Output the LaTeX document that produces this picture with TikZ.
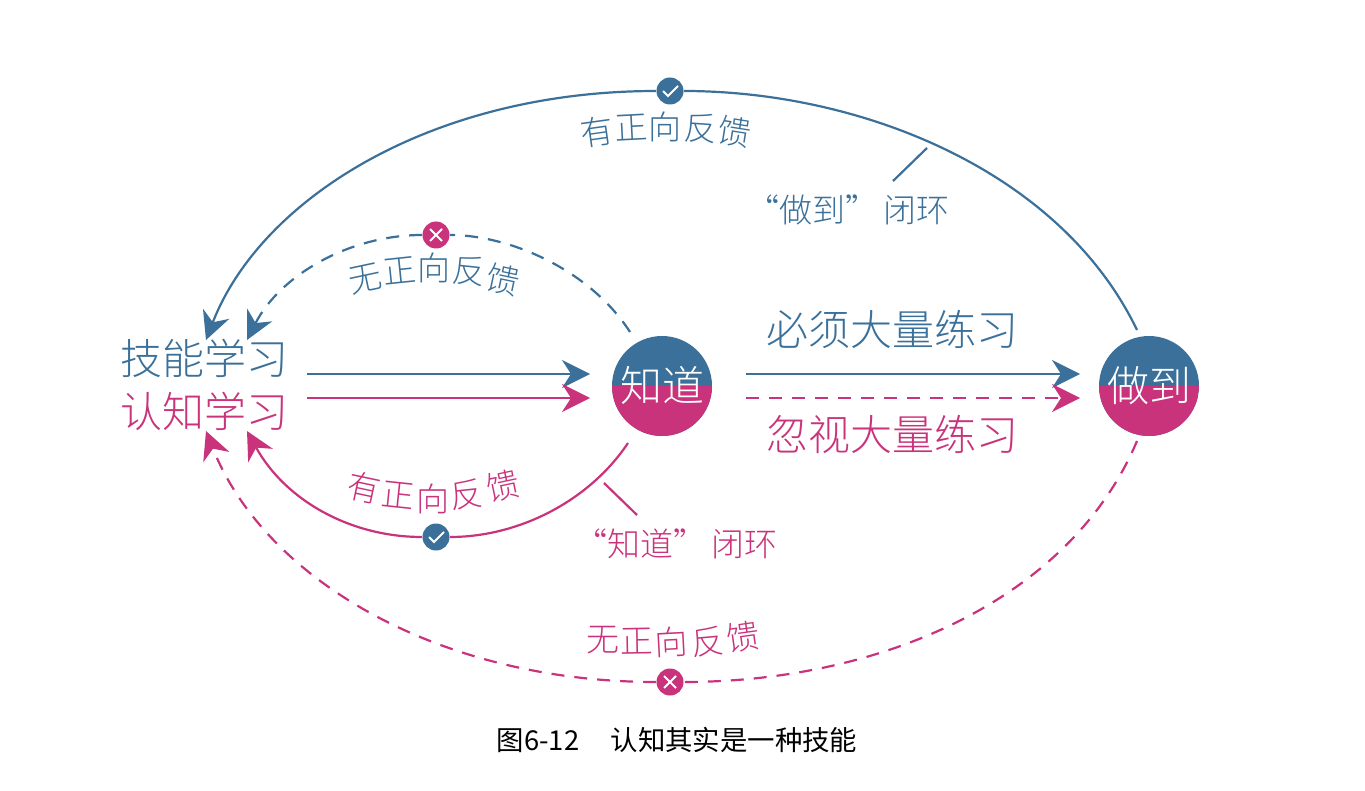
\documentclass[tikz,border=0pt]{standalone}
\usepackage{fontspec}
\setmainfont{Noto Sans CJK SC}
\newfontfamily\thincjk{Noto Sans CJK SC Light}
\usetikzlibrary{arrows.meta}
\definecolor{skillblue}{HTML}{3A7099}
\definecolor{cogpink}{HTML}{C9337C}
\tikzset{
  tipped/.style={-{Stealth[length=14pt,width=14pt,inset=4.5pt]}},
  link/.style={line width=1.1pt},
  dashlink/.style={link,dash pattern=on 6.5pt off 5pt},
  bigtext/.style={font=\thincjk\fontsize{21}{21}\selectfont,inner sep=0pt},
  arctext/.style={font=\thincjk\fontsize{16.5}{17}\selectfont,inner sep=0pt},
  loopname/.style={font=\thincjk\fontsize{16.5}{17}\selectfont,inner sep=0pt},
  halfball/.style={circle,minimum size=50pt,inner sep=0pt,fill=skillblue,text=white,font=\thincjk\fontsize{21}{21}\selectfont,
    path picture={\fill[cogpink] (path picture bounding box.west) rectangle (path picture bounding box.south east);}},
  badge/.style={circle,minimum size=13.5pt,inner sep=0pt,fill=#1},
  okbadge/.style={badge=skillblue,
    path picture={\draw[white,line width=1pt] (path picture bounding box.center) ++(-7,0) -- ++(5,5) -- ++(10,-10);}},
  nobadge/.style={badge=cogpink,
    path picture={\draw[white,line width=1pt] (path picture bounding box.center) ++(-6,-6) -- ++(12,12) ++(-12,0) -- ++(12,-12);}},
}
\begin{document}
\begin{tikzpicture}[x=0.5pt,y=-0.5pt]
\useasboundingbox (0,0) rectangle (1365,791);

\node[halfball] (know) at (662,386) {\raisebox{2.5pt}{知道}};
\node[halfball] (done) at (1149,386) {\raisebox{2.5pt}{做到}};
\node[bigtext,text=skillblue] (skill) at (204,358) {技能学习};
\node[bigtext,text=cogpink] (cog) at (204,411) {认知学习};
\node[bigtext,text=skillblue] (must) at (892,329) {必须大量练习};
\node[bigtext,text=cogpink] (skip) at (892,434) {忽视大量练习};

\node[okbadge] (topok) at (670,91) {};
\node[nobadge] (topno) at (436,235) {};
\node[okbadge] (lowok) at (436,537) {};
\node[nobadge] (lowno) at (670,682) {};

% free ends
\coordinate (doneup) at (1137,330);
\coordinate (donedn) at (1137,441);
\coordinate (knowup) at (630,332);
\coordinate (knowdn) at (628,443);
\coordinate (skilltipa) at (206,340);
\coordinate (skilltipb) at (247,340);
\coordinate (cogtipa) at (206,431);
\coordinate (cogtipb) at (247,431);
\coordinate (skillout) at (307,374);
\coordinate (cogout) at (307,398);
\coordinate (skillin) at (590,374);
\coordinate (cogin) at (590,398);
\coordinate (mustout) at (746,374);
\coordinate (skipout) at (746,398);
\coordinate (mustin) at (1080,374);
\coordinate (skipin) at (1080,398);
\coordinate (leadupa) at (927,148);
\coordinate (leadupb) at (893,181);
\coordinate (leaddna) at (604,483);
\coordinate (leaddnb) at (637,515);

\draw[link,skillblue](doneup).. controls (1060,170) and (860,91) ..(topok);
\draw[link,skillblue,tipped](topok).. controls (430,91) and (260,200) ..(skilltipa);
\draw[dashlink,skillblue](knowup).. controls (590,270) and (510,235) ..(topno);
\draw[dashlink,skillblue,tipped](topno).. controls (350,235) and (280,275) ..(skilltipb);
\draw[link,cogpink](knowdn).. controls (590,500) and (520,537) ..(lowok);
\draw[link,cogpink,tipped](lowok).. controls (350,537) and (285,500) ..(cogtipb);
\draw[dashlink,cogpink](donedn).. controls (1070,600) and (880,682) ..(lowno);
\draw[dashlink,cogpink,tipped](lowno).. controls (440,682) and (265,580) ..(cogtipa);

\draw[link,skillblue,tipped](skillout)to(skillin);
\draw[link,cogpink,tipped](cogout)to(cogin);
\draw[link,skillblue,tipped](mustout)to(mustin);
\draw[dashlink,cogpink,tipped](skipout)to(skipin);

\draw[link,skillblue](leadupa)to(leadupb);
\draw[link,cogpink](leaddna)to(leaddnb);

\foreach \ch/\px/\py/\ang [count=\i] in {有/597/132/8,正/631/128/3,向/665/127/0,反/701/128/-4,馈/735/132/-9}
  \node[arctext,text=skillblue,rotate=\ang] (topfb\i) at (\px,\py) {\ch};
\foreach \ch/\px/\py/\ang [count=\i] in {无/365/279/12,正/400/271/6,向/434/268/0,反/469/271/-6,馈/503/280/-12}
  \node[arctext,text=skillblue,rotate=\ang] (midfb\i) at (\px,\py) {\ch};
\foreach \ch/\px/\py/\ang [count=\i] in {有/364/488/-12,正/398/495/-6,向/433/499/0,反/467/495/6,馈/503/486/12}
  \node[arctext,text=cogpink,rotate=\ang] (lowfb\i) at (\px,\py) {\ch};
\foreach \ch/\px/\py/\ang [count=\i] in {无/603/640/0,正/637/641/1,向/671/642/3,反/708/642/5,馈/743/637/8}
  \node[arctext,text=cogpink,rotate=\ang] (basefb\i) at (\px,\py) {\ch};

\node[loopname,text=skillblue] (doneloop) at (848,210) {“做到”\hspace{2.5pt}闭环};
\node[loopname,text=cogpink] (knowloop) at (676,544) {“知道”\hspace{2.5pt}闭环};
\node[font=\fontsize{13.7}{14}\selectfont,inner sep=0pt] (caption) at (677,740) {图6-12\hspace{1.15em}认知其实是一种技能};
\end{tikzpicture}
\end{document}
